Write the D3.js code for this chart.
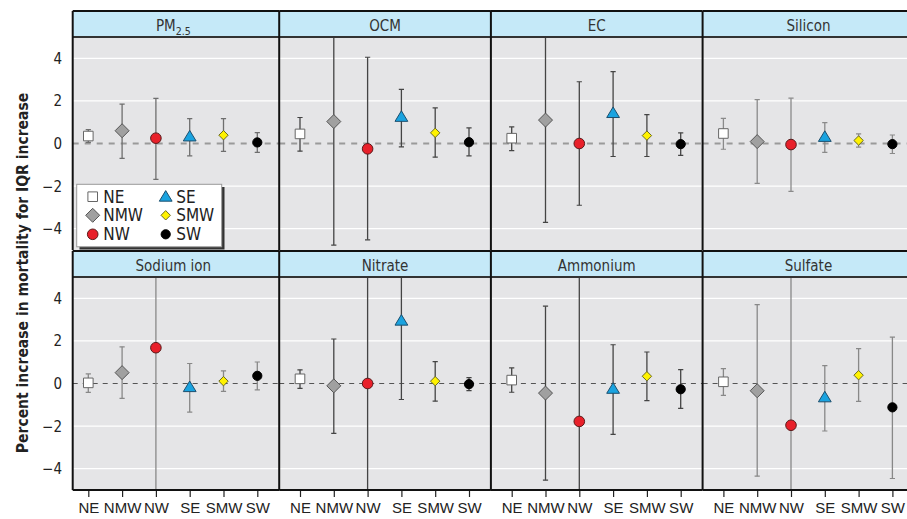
<!DOCTYPE html>
<html>
<head>
<meta charset="utf-8">
<script src="https://cdn.jsdelivr.net/npm/d3@7"></script>
<style>
  body { margin: 0; background: #fff; }
  svg { display: block; font-family: "Liberation Sans Narrow", "DejaVu Sans Condensed", "Roboto", sans-serif; }
</style>
</head>
<body>
<div id="chart"></div>
<script>
const regions = ["NE", "NMW", "NW", "SE", "SMW", "SW"];
const pollutants = ["PM2.5", "OCM", "EC", "Silicon", "Sodium ion", "Nitrate", "Ammonium", "Sulfate"];
const yTicks = [-4, -2, 0, 2, 4];

// order of values: PM2.5, OCM, EC, Silicon, Sodium ion, Nitrate, Ammonium, Sulfate
const neEst  = [0.35, 0.45, 0.25, 0.47, 0.03, 0.22, 0.16, 0.08];
const neLow  = [0.05, -0.36, -0.33, -0.27, -0.42, -0.23, -0.41, -0.56];
const neHigh = [0.65, 1.22, 0.78, 1.18, 0.45, 0.64, 0.73, 0.70];

const nmwEst  = [0.60, 1.03, 1.10, 0.09, 0.51, -0.11, -0.45, -0.34];
const nmwLow  = [-0.70, -4.77, -3.70, -1.87, -0.70, -2.34, -4.54, -4.35];
const nmwHigh = [1.85, 5.6, 5.9, 2.06, 1.72, 2.09, 3.63, 3.70];

const nwEst  = [0.25, -0.25, 0.00, -0.05, 1.68, 0.00, -1.78, -1.96];
const nwLow  = [-1.68, -4.52, -2.90, -2.25, -5.5, -5.8, -5.9, -6.1];
const nwHigh = [2.12, 4.05, 2.90, 2.13, 5.6, 5.8, 5.7, 5.5];

const seEst  = [0.33, 1.25, 1.43, 0.31, -0.17, 2.95, -0.25, -0.65];
const seLow  = [-0.58, -0.16, -0.61, -0.42, -1.34, -0.75, -2.39, -2.23];
const seHigh = [1.17, 2.54, 3.37, 0.98, 0.94, 5.8, 1.82, 0.84];

const smwEst  = [0.39, 0.50, 0.37, 0.14, 0.11, 0.11, 0.34, 0.39];
const smwLow  = [-0.37, -0.64, -0.61, -0.17, -0.37, -0.83, -0.80, -0.84];
const smwHigh = [1.17, 1.67, 1.36, 0.45, 0.59, 1.03, 1.48, 1.64];

const swEst  = [0.05, 0.06, -0.03, -0.03, 0.36, -0.03, -0.27, -1.12];
const swLow  = [-0.42, -0.58, -0.56, -0.47, -0.30, -0.33, -1.17, -4.46];
const swHigh = [0.51, 0.73, 0.50, 0.40, 1.01, 0.28, 0.65, 2.18];

const estimates = [neEst, nmwEst, nwEst, seEst, smwEst, swEst];
const lows = [neLow, nmwLow, nwLow, seLow, smwLow, swLow];
const highs = [neHigh, nmwHigh, nwHigh, seHigh, smwHigh, swHigh];

// marker styles per region
const shapes = ["square", "diamond", "circle", "triangle", "diamond", "circle"];
const radii = [4.8, 7, 5.3, 6.4, 4.7, 4.6];
const fills = ["#ffffff", "#a0a0a0", "#e8202a", "#1aa3e0", "#fff200", "#000000"];
const strokes = ["#666666", "#555555", "#5a1a1a", "#1c4f6e", "#6b6b20", "#000000"];
// error bar colour per panel
const barColors = ["#6e6e6e", "#444", "#444", "#8a8a8a", "#888", "#444", "#444", "#888"];

const W = 907, H = 519;
const pitch = 211.7, firstPanel = 67.5, frameLeft = 72.7;
const headerTop = [11, 251], headerH = 26, plotH = 213;

const svg = d3.select("#chart").append("svg").attr("width", W).attr("height", H);

function markerPath(shape, r) {
  if (shape === "square") return `M${-r},${-r}H${r}V${r}H${-r}Z`;
  if (shape === "diamond") return `M0,${-r}L${r},0L0,${r}L${-r},0Z`;
  if (shape === "triangle") return `M0,${-r * 0.95}L${r},${r * 0.7}L${-r},${r * 0.7}Z`;
  return d3.arc()({ innerRadius: 0, outerRadius: r, startAngle: 0, endAngle: 2 * Math.PI });
}

const defs = svg.append("defs");

pollutants.forEach((name, p) => {
  const row = Math.floor(p / 4), col = p % 4;
  const start = firstPanel + col * pitch;
  const x0 = col === 0 ? frameLeft : start;
  const x1 = Math.min(start + pitch, W + 2);
  const top = headerTop[row] + headerH;

  const y = d3.scaleLinear().domain([-5, 5]).range([top + plotH, top]);
  const x = d3.scalePoint().domain(regions).range([start + 20.8, start + 189.8]);

  defs.append("clipPath").attr("id", "clip" + p)
    .append("rect").attr("x", x0).attr("y", top).attr("width", x1 - x0).attr("height", plotH);

  const g = svg.append("g");
  g.append("rect").attr("x", x0).attr("y", top).attr("width", x1 - x0).attr("height", plotH)
    .attr("fill", "#e5e5e7");

  // grid lines
  g.selectAll(".grid").data(yTicks.filter(t => t !== 0)).enter().append("line")
    .attr("x1", x0).attr("x2", x1).attr("y1", d => y(d)).attr("y2", d => y(d))
    .attr("stroke", "#fff").attr("stroke-width", 1.2);

  // zero line
  g.append("line").attr("x1", x0).attr("x2", x1).attr("y1", y(0)).attr("y2", y(0))
    .attr("stroke", row === 0 ? "#9a9a9a" : "#555")
    .attr("stroke-width", row === 0 ? 1.8 : 1)
    .attr("stroke-dasharray", row === 0 ? "6,6" : "5,5");

  const pts = regions.map((r, i) => ({
    region: r, i: i, est: estimates[i][p], lo: lows[i][p], hi: highs[i][p]
  }));

  const bars = g.append("g").attr("clip-path", `url(#clip${p})`);
  bars.selectAll(".bar").data(pts).enter().append("line")
    .attr("x1", d => x(d.region)).attr("x2", d => x(d.region))
    .attr("y1", d => y(d.lo)).attr("y2", d => y(d.hi))
    .attr("stroke", barColors[p]).attr("stroke-width", 1.3);
  ["lo", "hi"].forEach(k => {
    bars.selectAll(".cap" + k).data(pts).enter().append("line")
      .attr("x1", d => x(d.region) - 2.6).attr("x2", d => x(d.region) + 2.6)
      .attr("y1", d => y(d[k])).attr("y2", d => y(d[k]))
      .attr("stroke", barColors[p]).attr("stroke-width", 1.2);
  });

  g.selectAll(".mark").data(pts).enter().append("path")
    .attr("transform", d => `translate(${x(d.region)},${y(d.est)})`)
    .attr("d", d => markerPath(shapes[d.i], radii[d.i]))
    .attr("fill", d => fills[d.i]).attr("stroke", d => strokes[d.i]).attr("stroke-width", 1);

  // header strip
  svg.append("rect").attr("x", x0).attr("y", headerTop[row]).attr("width", x1 - x0).attr("height", headerH)
    .attr("fill", "#c5e9f8");
  const ht = svg.append("text").attr("x", start + pitch / 2)
    .attr("y", headerTop[row] + 19.5).attr("text-anchor", "middle")
    .attr("font-size", 15).attr("fill", "#333");
  if (name === "PM2.5") {
    ht.append("tspan").text("PM");
    ht.append("tspan").attr("font-size", 10.5).attr("dy", 4).text("2.5");
  } else {
    ht.text(name);
  }

  // y tick labels on the first column
  if (col === 0) {
    svg.selectAll(null).data(yTicks).enter().append("text")
      .attr("x", 62).attr("y", d => y(d) + 5.5).attr("text-anchor", "end")
      .attr("font-size", 15).attr("fill", "#222")
      .text(d => d3.format("d")(d).replace("-", "\u2212"));
  }

  // x axis on the bottom row
  if (row === 1) {
    const ax = svg.append("g").attr("transform", `translate(0,${top + plotH})`)
      .call(d3.axisBottom(x).tickSize(7).tickPadding(5));
    ax.select(".domain").remove();
    ax.selectAll(".tick line").attr("stroke", "#222").attr("stroke-width", 1.2);
    ax.selectAll(".tick text").attr("font-size", 15).attr("fill", "#222")
      .attr("font-family", "inherit");
  }

  // borders
  const bc = "#111";
  svg.append("line").attr("x1", x0).attr("x2", x1).attr("y1", headerTop[row]).attr("y2", headerTop[row])
    .attr("stroke", bc).attr("stroke-width", 2);
  svg.append("line").attr("x1", x0).attr("x2", x1).attr("y1", top).attr("y2", top)
    .attr("stroke", "#333").attr("stroke-width", 1.8);
  svg.append("line").attr("x1", x0).attr("x2", x0).attr("y1", headerTop[row]).attr("y2", top + plotH)
    .attr("stroke", bc).attr("stroke-width", 2);
  if (row === 1) {
    svg.append("line").attr("x1", x0).attr("x2", x1).attr("y1", top + plotH).attr("y2", top + plotH)
      .attr("stroke", bc).attr("stroke-width", 2);
  }
});

// y axis title
svg.append("text")
  .attr("transform", "translate(28,273) rotate(-90)")
  .attr("text-anchor", "middle").attr("font-weight", "bold").attr("font-size", 15.5)
  .attr("fill", "#222")
  .text("Percent increase in mortality for IQR increase");

// legend
const lg = svg.append("g");
lg.append("rect").attr("x", 79.5).attr("y", 187).attr("width", 145).attr("height", 62.5).attr("fill", "#333");
lg.append("rect").attr("x", 76.7).attr("y", 184.3).attr("width", 145).attr("height", 62.5)
  .attr("fill", "#fff").attr("stroke", "#999").attr("stroke-width", 1);
const legendCols = [92.7, 165.7], legendRows = [196.7, 215.3, 234.3];
regions.forEach((r, i) => {
  const cx = legendCols[Math.floor(i / 3)], cy = legendRows[i % 3];
  lg.append("path").attr("transform", `translate(${cx},${cy})`)
    .attr("d", markerPath(shapes[i], radii[i]))
    .attr("fill", fills[i]).attr("stroke", strokes[i]).attr("stroke-width", 1);
  lg.append("text").attr("x", cx + 10.5).attr("y", cy + 6).attr("font-size", 17).attr("fill", "#222").text(r);
});
</script>
</body>
</html>
